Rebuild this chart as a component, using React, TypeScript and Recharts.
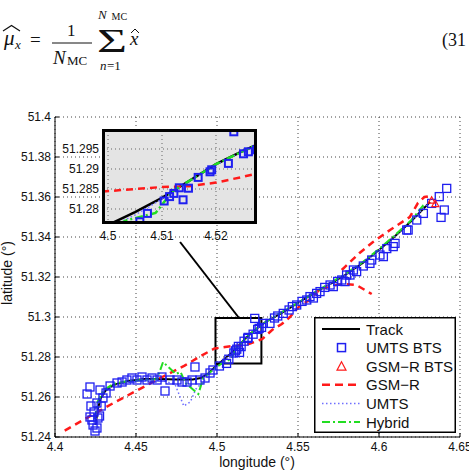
import React from 'react';
import {
  ComposedChart,
  Line,
  Scatter,
  XAxis,
  YAxis,
  CartesianGrid,
  ReferenceArea,
  ReferenceLine,
} from 'recharts';

const W = 469;
const H = 473;
const SANS = '"Liberation Sans", Arial, Helvetica, sans-serif';
const SERIF = '"Liberation Serif", "Times New Roman", serif';

const BLUE = '#1f1ff0';
const RED = '#ff1a1a';
const GREEN = '#22dd22';
const LIGHT_BLUE = '#6f6fff';

// axis ticks
const lonTicks = [4.4, 4.45, 4.5, 4.55, 4.6, 4.65];
const latTicks = [51.24, 51.26, 51.28, 51.3, 51.32, 51.34, 51.36, 51.38, 51.4];
const zoomLonTicks = [4.5, 4.51, 4.52];
const zoomLatTicks = [51.28, 51.285, 51.29, 51.295];

// zoom window (lon / lat)
const zoomLon = [4.49907, 4.52741];
const zoomLat = [51.27675, 51.2995];

// [longitude, latitude]
const track: [number, number][] = [
  [4.425, 51.246], [4.4265, 51.254], [4.428, 51.259], [4.431, 51.263],
  [4.436, 51.266], [4.445, 51.268], [4.455, 51.269], [4.465, 51.269],
  [4.475, 51.2688], [4.485, 51.2688], [4.49, 51.2695], [4.495, 51.272],
  [4.5, 51.276], [4.505, 51.2792], [4.51, 51.2828], [4.515, 51.287],
  [4.52, 51.2912], [4.525, 51.2945], [4.53, 51.2975], [4.54, 51.302],
  [4.55, 51.307], [4.56, 51.312], [4.57, 51.3165], [4.58, 51.3215],
  [4.59, 51.327], [4.6, 51.3335], [4.61, 51.3405], [4.62, 51.348],
  [4.6315, 51.3575],
];

const umtsBts: [number, number][] = [
  [4.4216, 51.265], [4.4198, 51.2615], [4.4222, 51.2555], [4.4259, 51.257],
  [4.4241, 51.2525], [4.4216, 51.25], [4.4235, 51.246], [4.4259, 51.2445],
  [4.4247, 51.243], [4.4228, 51.2485], [4.4265, 51.2495], [4.4285, 51.2555],
  [4.4275, 51.2505], [4.4278, 51.2635], [4.4315, 51.262], [4.4296, 51.2595],
  [4.434, 51.2655], [4.4383, 51.267], [4.4414, 51.2675], [4.4444, 51.2685],
  [4.4475, 51.2695], [4.4506, 51.2685], [4.4537, 51.27], [4.4568, 51.2685],
  [4.4599, 51.2695], [4.463, 51.2685], [4.466, 51.27], [4.4679, 51.263],
  [4.471, 51.2685], [4.4753, 51.2685], [4.4784, 51.2675], [4.4815, 51.2675],
  [4.4846, 51.2685], [4.4864, 51.275], [4.4895, 51.2685], [4.4926, 51.2695],
  [4.4957, 51.272], [4.4975, 51.2735], [4.5015, 51.2755], [4.5059, 51.2768],
  [4.5073, 51.2789], [4.5104, 51.282], [4.5114, 51.2831], [4.5122, 51.2839],
  [4.5132, 51.2853], [4.5139, 51.2823], [4.5149, 51.2852], [4.5167, 51.2879],
  [4.5189, 51.2893], [4.5192, 51.2898], [4.5223, 51.2914], [4.5233, 51.2993],
  [4.5251, 51.2938], [4.526, 51.2943], [4.5275, 51.2948], [4.5286, 51.2968],
  [4.5327, 51.2968], [4.5355, 51.2995], [4.5375, 51.3005], [4.5409, 51.3018],
  [4.5445, 51.3035], [4.5465, 51.3052], [4.5492, 51.306], [4.5525, 51.3078],
  [4.5554, 51.3085], [4.5574, 51.3102], [4.5595, 51.3095], [4.5615, 51.3118],
  [4.5636, 51.3127], [4.5665, 51.3148], [4.5698, 51.316], [4.5718, 51.3152],
  [4.5745, 51.3178], [4.577, 51.3185], [4.579, 51.3177], [4.58, 51.321],
  [4.5821, 51.321], [4.5842, 51.3235], [4.5862, 51.3227], [4.5903, 51.3255],
  [4.5944, 51.3268], [4.5955, 51.3285], [4.6006, 51.331], [4.6027, 51.3302],
  [4.6048, 51.3342], [4.6088, 51.3352], [4.6099, 51.3368], [4.6171, 51.3435],
  [4.618, 51.3435], [4.6233, 51.3485], [4.6274, 51.3518], [4.6325, 51.3568],
  [4.6372, 51.3602], [4.6418, 51.3643], [4.6403, 51.3535], [4.6383, 51.3498],
];

const gsmrBts: [number, number][] = [
  [4.6325, 51.3585], [4.6348, 51.3568],
];

// null latitude = break in the estimate
const gsmr: [number, number | null][] = [
  [4.406, 51.2432], [4.42, 51.2497], [4.435, 51.2565], [4.45, 51.263],
  [4.465, 51.2695], [4.48, 51.2757], [4.49, 51.2805], [4.4985, 51.2843],
  [4.505, 51.285], [4.51, 51.2855], [4.515, 51.2857], [4.52, 51.2866],
  [4.5245, 51.2879], [4.528, 51.289], [4.534, 51.2935], [4.54, 51.2965],
  [4.545, 51.3], [4.551, 51.3055], [4.557, 51.3085], [4.563, 51.3135],
  [4.57, 51.3155], [4.578, 51.3165], [4.586, 51.316], [4.5955, 51.3115],
  [4.59, null],
  [4.577, 51.3235], [4.588, 51.332], [4.5963, 51.3375], [4.6068, 51.3435],
  [4.619, 51.35], [4.624, 51.357], [4.628, 51.36], [4.632, 51.3605],
];

const umts: [number, number][] = [
  [4.425, 51.247], [4.4265, 51.256], [4.43, 51.263], [4.437, 51.266],
  [4.447, 51.2675], [4.457, 51.2685], [4.467, 51.268], [4.474, 51.2665],
  [4.4795, 51.2555], [4.4835, 51.2575], [4.487, 51.264], [4.4925, 51.2685],
  [4.498, 51.274], [4.505, 51.2785], [4.51, 51.2825], [4.515, 51.2868],
  [4.52, 51.291], [4.525, 51.2945], [4.535, 51.3], [4.55, 51.307],
  [4.565, 51.314], [4.58, 51.3215], [4.595, 51.33], [4.61, 51.3405],
  [4.62, 51.348], [4.63, 51.3565],
];

const hybrid: [number, number][] = [
  [4.4245, 51.249], [4.4262, 51.2575], [4.43, 51.2635], [4.436, 51.2665],
  [4.445, 51.268], [4.455, 51.2685], [4.463, 51.269], [4.4667, 51.2775],
  [4.4745, 51.2715], [4.4775, 51.2725], [4.4805, 51.267], [4.4885, 51.2615],
  [4.4915, 51.2695], [4.4975, 51.2735], [4.5035, 51.2772], [4.5088, 51.279],
  [4.512, 51.2845], [4.516, 51.2878], [4.52, 51.2912], [4.5255, 51.2948],
  [4.53, 51.2975], [4.54, 51.3025], [4.55, 51.3072], [4.56, 51.3122],
  [4.57, 51.317], [4.58, 51.322], [4.59, 51.3275], [4.6, 51.334],
  [4.61, 51.341], [4.62, 51.3485], [4.627, 51.3555], [4.6285, 51.3535],
];

const toPts = (arr: [number, number | null][]) => arr.map(([lon, lat]) => ({ lon, lat }));

const trackPts = toPts(track);
const umtsBtsPts = toPts(umtsBts);
const gsmrBtsPts = toPts(gsmrBts);
const gsmrPts = toPts(gsmr);
const umtsPts = toPts(umts);
const hybridPts = toPts(hybrid);

const squareShape = (size: number, sw: number) => (props: any) => {
  const { cx, cy } = props;
  if (cx == null || cy == null) return <g />;
  return (
    <rect x={cx - size / 2} y={cy - size / 2} width={size} height={size}
      fill="none" stroke={BLUE} strokeWidth={sw} />
  );
};

const triangleShape = (size: number) => (props: any) => {
  const { cx, cy } = props;
  if (cx == null || cy == null) return <g />;
  const h = size * 0.9;
  return (
    <path d={`M${cx},${cy - h / 2}L${cx + size / 2},${cy + h / 2}L${cx - size / 2},${cy + h / 2}Z`}
      fill="none" stroke={RED} strokeWidth={1.2} />
  );
};

const tickStyle = { fill: '#111', fontSize: 12, fontFamily: SANS };

const legendItems = [
  { name: 'Track', kind: 'line', color: '#000', dash: undefined as string | undefined, width: 2 },
  { name: 'UMTS BTS', kind: 'square', color: BLUE, dash: undefined, width: 1.5 },
  { name: 'GSM\u2212R BTS', kind: 'triangle', color: RED, dash: undefined, width: 1.2 },
  { name: 'GSM\u2212R', kind: 'line', color: RED, dash: '8 5', width: 2.5 },
  { name: 'UMTS', kind: 'line', color: LIGHT_BLUE, dash: '1.5 2.5', width: 1.5 },
  { name: 'Hybrid', kind: 'line', color: GREEN, dash: '8 3 2 3', width: 2 },
];

function LegendBox() {
  return (
    <svg width={142} height={116} style={{ position: 'absolute', left: 314, top: 317 }}>
      <rect x={0.75} y={0.75} width={140.5} height={114.5} fill="#fff" stroke="#000" strokeWidth={1.5} />
      {legendItems.map((it, i) => {
        const y = 12 + i * 18.6;
        let mark: React.ReactNode;
        if (it.kind === 'line') {
          mark = <line x1={8} x2={46} y1={y} y2={y} stroke={it.color} strokeWidth={it.width} strokeDasharray={it.dash} />;
        } else if (it.kind === 'square') {
          mark = <rect x={23.5} y={y - 4} width={8} height={8} fill="none" stroke={it.color} strokeWidth={1.5} />;
        } else {
          mark = <path d={`M27.5,${y - 4.5}L32,${y + 4}L23,${y + 4}Z`} fill="none" stroke={it.color} strokeWidth={1.2} />;
        }
        return (
          <g key={it.name}>
            {mark}
            <text x={52} y={y + 5.5} fontSize={15} fontFamily={SANS} fill="#111">{it.name}</text>
          </g>
        );
      })}
    </svg>
  );
}

function Equation() {
  return (
    <svg width={W} height={80} style={{ position: 'absolute', left: 0, top: 0 }} fontFamily={SERIF} fill="#111">
      <text x={4} y={45} fontSize={21} fontStyle="italic">μ</text>
      <path d="M3,31 L11.5,25.5 L20,31" fill="none" stroke="#111" strokeWidth={1.2} />
      <text x={15} y={49} fontSize={13} fontStyle="italic">x</text>
      <text x={30} y={46} fontSize={19}>=</text>
      <text x={67} y={36} fontSize={17}>1</text>
      <line x1={52} x2={92} y1={43} y2={43} stroke="#111" strokeWidth={1} />
      <text x={53} y={64} fontSize={19} fontStyle="italic">N</text>
      <text x={67} y={65} fontSize={13}>MC</text>
      <text x={97} y={52} fontSize={34} textLength={30} lengthAdjust="spacingAndGlyphs">Σ</text>
      <text x={98} y={19} fontSize={13} fontStyle="italic">N</text>
      <text x={111.5} y={20} fontSize={10}>MC</text>
      <text x={100} y={70} fontSize={13} fontStyle="italic">n</text>
      <text x={107} y={70} fontSize={13}>=1</text>
      <text x={130} y={45} fontSize={19} fontStyle="italic">x</text>
      <path d="M131,33 L135,29 L139,33" fill="none" stroke="#111" strokeWidth={1} />
      <text x={442} y={46} fontSize={18}>(31</text>
    </svg>
  );
}

function AxisTitles() {
  return (
    <svg width={W} height={H} style={{ position: 'absolute', left: 0, top: 0, pointerEvents: 'none' }}>
      <text x={257} y={467} fontSize={14} fontFamily={SANS} textAnchor="middle" fill="#111">longitude (°)</text>
      <text x={12} y={273} fontSize={14} fontFamily={SANS} textAnchor="middle" fill="#111"
        transform="rotate(-90 12 273)">latitude (°)</text>
    </svg>
  );
}

export default function App() {
  return (
    <div style={{ position: 'absolute', left: 0, top: 0, width: W, height: H, background: '#fff', overflow: 'hidden' }}>
      <Equation />

      {/* main map */}
      <div style={{ position: 'absolute', left: 0, top: 0 }}>
        <ComposedChart width={W} height={H} margin={{ top: 117, right: 9, bottom: 35, left: 54 }}>
          <CartesianGrid stroke="#444" strokeDasharray="1 3" />
          <XAxis type="number" dataKey="lon" domain={[4.4, 4.65]} ticks={lonTicks} height={1}
            tick={tickStyle} tickSize={-4} tickMargin={9} stroke="#000" interval={0} />
          <YAxis type="number" dataKey="lat" domain={[51.24, 51.4]} ticks={latTicks} width={1}
            tick={tickStyle} tickSize={-4} tickMargin={8} stroke="#000" interval={0} />
          <Line data={trackPts} dataKey="lat" stroke="#000" strokeWidth={2} dot={false} isAnimationActive={false} />
          <Scatter data={umtsBtsPts} dataKey="lat" shape={squareShape(8, 1.3)} isAnimationActive={false} />
          <Scatter data={gsmrBtsPts} dataKey="lat" shape={triangleShape(7)} isAnimationActive={false} />
          <Line data={gsmrPts} dataKey="lat" stroke={RED} strokeWidth={2.5} strokeDasharray="7 5" dot={false} isAnimationActive={false} />
          <Line data={umtsPts} dataKey="lat" stroke={LIGHT_BLUE} strokeWidth={1.5} strokeDasharray="1.5 2.5" dot={false} isAnimationActive={false} />
          <Line data={hybridPts} dataKey="lat" stroke={GREEN} strokeWidth={2} strokeDasharray="8 3 2 3" dot={false} isAnimationActive={false} />
          <ReferenceArea x1={zoomLon[0]} x2={zoomLon[1]} y1={zoomLat[0]} y2={zoomLat[1]}
            fill="none" fillOpacity={0} stroke="#000" strokeWidth={2} ifOverflow="visible" />
          <ReferenceLine segment={[{ x: 4.4772, y: 51.3375 }, { x: 4.5136, y: zoomLat[1] }]}
            stroke="#000" strokeWidth={2} ifOverflow="visible" />
        </ComposedChart>
      </div>

      {/* zoomed inset */}
      <div style={{ position: 'absolute', left: 0, top: 0 }}>
        <ComposedChart width={W} height={H} margin={{ top: 131, right: W - 256, bottom: H - 223, left: 102 }}>
          <CartesianGrid stroke="#666" strokeDasharray="1 3" fill="#e4e4e4" fillOpacity={1} />
          <XAxis type="number" dataKey="lon" domain={zoomLon} ticks={zoomLonTicks} height={1} allowDataOverflow
            tick={tickStyle} tickSize={0} tickMargin={9} axisLine={false} tickLine={false} interval={0} />
          <YAxis type="number" dataKey="lat" domain={zoomLat} ticks={zoomLatTicks} width={1} allowDataOverflow
            tick={tickStyle} tickSize={0} tickMargin={4} axisLine={false} tickLine={false} interval={0} />
          <Line data={trackPts} dataKey="lat" stroke="#000" strokeWidth={2.5} dot={false} isAnimationActive={false} />
          <Scatter data={umtsBtsPts} dataKey="lat" shape={squareShape(7, 2)} isAnimationActive={false} />
          <Scatter data={gsmrBtsPts} dataKey="lat" shape={triangleShape(7)} isAnimationActive={false} />
          <Line data={gsmrPts} dataKey="lat" stroke={RED} strokeWidth={2.5} strokeDasharray="7 5" dot={false} isAnimationActive={false} />
          <Line data={umtsPts} dataKey="lat" stroke={LIGHT_BLUE} strokeWidth={1.5} strokeDasharray="1.5 2.5" dot={false} isAnimationActive={false} />
          <Line data={hybridPts} dataKey="lat" stroke={GREEN} strokeWidth={2.5} strokeDasharray="8 3 2 3" dot={false} isAnimationActive={false} />
        </ComposedChart>
      </div>
      <div style={{ position: 'absolute', left: 102, top: 129, width: 155, height: 95, border: '3px solid #000', boxSizing: 'border-box' }} />

      <LegendBox />
      <AxisTitles />
    </div>
  );
}
